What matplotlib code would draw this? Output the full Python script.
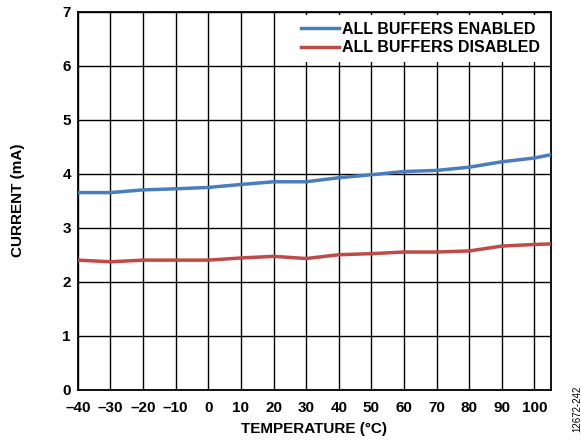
import matplotlib
matplotlib.use("Agg")
import matplotlib.pyplot as plt

plt.rcParams['font.family'] = ['Liberation Sans', 'DejaVu Sans']

# temperatura (°C) y corriente (mA)
temps = [-40, -30, -20, -10, 0, 10, 20, 30, 40, 50, 60, 70, 80, 90, 100, 105]
enabled = [3.65, 3.65, 3.70, 3.72, 3.745, 3.80, 3.85, 3.85, 3.925, 3.98,
           4.04, 4.06, 4.12, 4.22, 4.29, 4.35]
disabled = [2.40, 2.37, 2.40, 2.40, 2.40, 2.44, 2.47, 2.43, 2.50, 2.52,
            2.55, 2.55, 2.57, 2.66, 2.69, 2.70]

x_ticks = list(range(-40, 101, 10))
x_labels = [str(t).replace('-', '\u2013') for t in x_ticks]
y_ticks = list(range(0, 8))

fig = plt.figure(figsize=(5.81, 4.44), dpi=100)
ax = fig.add_axes([0.134, 0.122, 0.814, 0.852])

ax.plot(temps, enabled, color='#4A7EBB', lw=2.5, label='ALL BUFFERS ENABLED', zorder=3)
ax.plot(temps, disabled, color='#BE4B48', lw=2.5, label='ALL BUFFERS DISABLED', zorder=3)

ax.set_xlim(-40, 105)
ax.set_ylim(0, 7)
ax.set_xticks(x_ticks)
ax.set_xticklabels(x_labels)
ax.set_yticks(y_ticks)
ax.tick_params(axis='x', length=0, pad=8, labelsize=11)
ax.tick_params(axis='y', length=0, pad=5, labelsize=11)
for lbl in ax.get_xticklabels() + ax.get_yticklabels():
    lbl.set_fontweight('bold')

ax.grid(True, color='black', lw=1.0)
ax.set_axisbelow(True)
for s in ax.spines.values():
    s.set_linewidth(1.3)

ax.set_xlabel('TEMPERATURE (°C)', fontsize=11, fontweight='bold', labelpad=5)
ax.set_ylabel('CURRENT (mA)', fontsize=11, fontweight='bold', labelpad=27)

leg = ax.legend(loc='upper right', fontsize=11.5, frameon=True, fancybox=False,
                framealpha=1, edgecolor='none', borderaxespad=0.2, borderpad=0.45,
                handlelength=2.4, handletextpad=0.2, labelspacing=0.2)
for t in leg.get_texts():
    t.set_fontweight('bold')
leg.set_zorder(5)

fig.text(0.993, 0.08, '12672-242', rotation=90, fontsize=7, ha='center', va='center')

fig.savefig('out.png', dpi=100)
